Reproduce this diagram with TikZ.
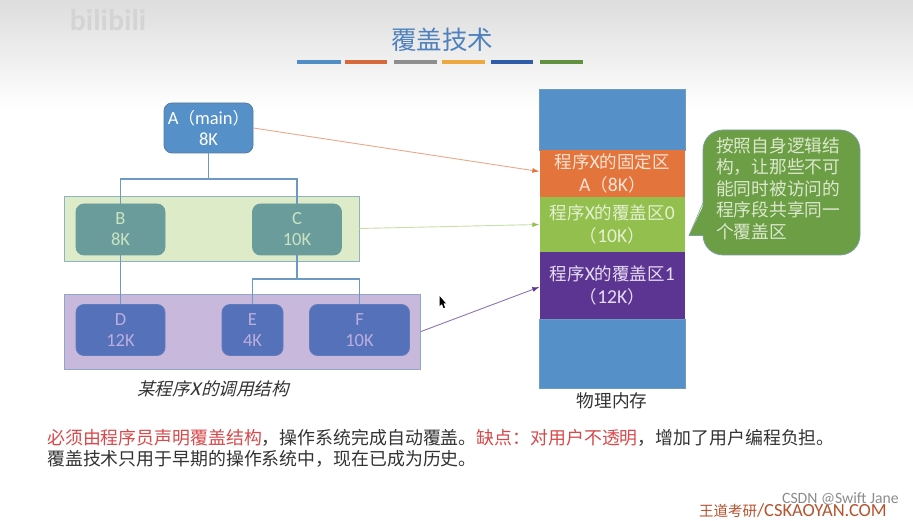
\documentclass[tikz,border=0pt]{standalone}
\usepackage{fontspec}
\setmainfont{Carlito}
\newfontfamily\cjk{Noto Sans CJK SC}
\newfontfamily\cjkit[FakeSlant=0.25]{Noto Sans CJK SC}
\newfontfamily\latit[FakeSlant=0.25]{Carlito}
\newcommand\cjkseg[1]{{\cjk\fontsize{17.5}{23}\selectfont #1}}
\newcommand\cjktree[1]{{\cjk\fontsize{16.5}{21}\selectfont #1}}
\usetikzlibrary{arrows.meta}
\definecolor{linkblue}{HTML}{6D9AC5}
\definecolor{memblue}{HTML}{5591C8}
\definecolor{memorange}{HTML}{E3743B}
\definecolor{memgreen}{HTML}{92BF4E}
\definecolor{mempurple}{HTML}{5C3593}
\definecolor{notegreen}{HTML}{6C9E46}
\definecolor{redtext}{HTML}{D9484A}
\definecolor{darktext}{HTML}{333333}
\definecolor{bgtop}{HTML}{DDDDDD}
\definecolor{tealfill}{HTML}{6A9C9B}
\definecolor{tealtext}{HTML}{CBE3C2}
\definecolor{indigofill}{HTML}{5571B9}
\definecolor{indigoedge}{HTML}{5F7CBE}
\definecolor{indigotext}{HTML}{BBAEDF}
\definecolor{titleblue}{HTML}{4F81BD}
\definecolor{barA}{HTML}{4F8FC6}
\definecolor{barB}{HTML}{D8693A}
\definecolor{barC}{HTML}{8E8E8E}
\definecolor{barD}{HTML}{EBA93F}
\definecolor{barE}{HTML}{2F5CA8}
\definecolor{barF}{HTML}{5F9140}
\definecolor{gband}{HTML}{DEEBC8}
\definecolor{gbandedge}{HTML}{8FB3BC}
\definecolor{pband}{HTML}{C8B8DC}
\definecolor{pbandedge}{HTML}{8FA8C8}
\definecolor{memedge}{HTML}{6E9CC0}
\definecolor{txtorange}{HTML}{FBE3D5}
\definecolor{txtgreen}{HTML}{E4F0D0}
\definecolor{txtpurple}{HTML}{E6DDF2}
\definecolor{arrorange}{HTML}{EBA98C}
\definecolor{arrgreen}{HTML}{C9DFA8}
\definecolor{arrpurple}{HTML}{8E74B4}
\definecolor{noteedge}{HTML}{7FA0A0}
\definecolor{notetxt}{HTML}{DCE8CC}
\definecolor{brandred}{HTML}{B5532E}
\tikzset{
  treenode/.style={rounded corners=8pt,inner sep=0pt,align=center,draw,line width=0.8pt,font=\fontsize{18.5}{21}\selectfont},
  nodeA/.style={treenode,fill=memblue,draw=linkblue!80!black,text=white},
  nodeG/.style={treenode,fill=tealfill,draw=tealfill,text=tealtext},
  nodeP/.style={treenode,fill=indigofill,draw=indigoedge,text=indigotext},
  band/.style={inner sep=0pt,line width=0.9pt},
  link/.style={draw=linkblue,line width=1.6pt},
  memseg/.style={inner sep=0pt,minimum width=145.5pt,align=center,font=\fontsize{19.6}{23}\selectfont},
  maplink/.style={line width=0.9pt},
  titlebar/.style={line width=3.6pt},
  textline/.style={anchor=west,inner sep=0pt,font=\cjk\fontsize{17.9}{22}\selectfont,text=darktext}
}
\begin{document}
\begin{tikzpicture}[x=1pt,y=-1pt]
\useasboundingbox (0,0) rectangle (913,521);
\fill[white] (0,0) rectangle (913,521);
\shade[top color=bgtop,bottom color=white] (0,0) rectangle (913,110);

% watermark
\node[text=black!17,font=\bfseries\fontsize{30}{33}\selectfont,inner sep=0pt] (bili) at (108,20) {bilibili};

% title
\node[font=\cjk\fontsize{25.5}{30}\selectfont,text=titleblue,inner sep=0pt] (title) at (442,40) {覆盖技术};
\draw[titlebar,draw=barA] (297,62) -- (340.5,62);
\draw[titlebar,draw=barB] (345,62) -- (387,62);
\draw[titlebar,draw=barC] (394,62) -- (437,62);
\draw[titlebar,draw=barD] (441.5,62) -- (485,62);
\draw[titlebar,draw=barE] (490.5,62) -- (533,62);
\draw[titlebar,draw=barF] (540,62) -- (582.5,62);

% bands
\node[band,fill=gband,draw=gbandedge,minimum width=295pt,minimum height=65pt] (greenband) at (211.5,228.5) {};
\node[band,fill=pband,draw=pbandedge,minimum width=356.5pt,minimum height=75pt] (purpleband) at (242.3,331.5) {};

% tree nodes
\node[nodeA,minimum width=89pt,minimum height=50pt] (A) at (208.5,128) {A\cjktree{（}main\cjktree{）}\\8K};
\node[nodeG,minimum width=89pt,minimum height=51pt] (B) at (120.5,229.5) {B\\8K};
\node[nodeG,minimum width=89pt,minimum height=51pt] (C) at (297,229.5) {C\\10K};
\node[nodeP,minimum width=89pt,minimum height=51pt] (D) at (120.5,330) {D\\12K};
\node[nodeP,minimum width=61pt,minimum height=51pt] (E) at (252.5,330) {E\\4K};
\node[nodeP,minimum width=100pt,minimum height=51pt] (F) at (359.5,330) {F\\10K};

% tree links
\coordinate (ja) at (208.5,179);
\coordinate (jc) at (297,279);
\draw[link] (A.south) -- (ja);
\draw[link] (B.north) |- (ja);
\draw[link] (C.north) |- (ja);
\draw[link] (B.south) -- (D.north);
\draw[link] (C.south) -- (jc);
\draw[link] (E.north) |- (jc);
\draw[link] (F.north) |- (jc);

\node[font=\cjkit\fontsize{17.5}{20}\selectfont,text=darktext,inner sep=0pt] (caption) at (213,389) {某程序{\latit\fontsize{19.6}{20}\selectfont X\kern1pt}的调用结构};

% memory
\node[memseg,fill=memblue,minimum height=61pt,draw=memedge,line width=0.5pt] (memtop) at (612.3,119.5) {};
\node[memseg,fill=memblue,minimum height=69pt,draw=memedge,line width=0.5pt] (membot) at (612.3,353.5) {};
\node[memseg,fill=memorange,minimum height=47pt,text=txtorange] (memA) at (612.3,173.5) {\cjkseg{程序}X\cjkseg{的固定区}\\A\cjkseg{（}8K\cjkseg{）}};
\node[memseg,fill=memgreen,minimum height=55pt,text=txtgreen] (mem0) at (612.3,224.5) {\cjkseg{程序}X\cjkseg{的覆盖区}0\\\cjkseg{（}10K\cjkseg{）}};
\node[memseg,fill=mempurple,minimum height=67pt,text=txtpurple] (mem1) at (612.3,285.5) {\cjkseg{程序}X\cjkseg{的覆盖区}1\\\cjkseg{（}12K\cjkseg{）}};
\node[font=\cjk\fontsize{17.7}{20}\selectfont,text=darktext,inner sep=0pt] (memlabel) at (612,401) {物理内存};

% mapping arrows
\draw[maplink,draw=arrorange,-{Latex[length=7pt,width=5pt,color=memorange]}] (A.east) -- ([yshift=2pt]memA.west);
\draw[maplink,draw=arrgreen,-{Latex[length=7pt,width=5pt,color=memgreen]}] (greenband.east) -- (mem0.west);
\draw[maplink,draw=arrpurple,-{Latex[length=7pt,width=5pt,color=mempurple]}] (purpleband.east) -- ([yshift=-1.5pt]mem1.west);

% callout
\node[fill=notegreen,draw=noteedge,line width=0.8pt,rounded corners=20pt,minimum width=157pt,minimum height=125pt,inner sep=0pt] (note) at (781.5,192.5) {};
\coordinate (tip) at (689,235.5);
\fill[notegreen] (704.5,203) -- (tip) -- (704.5,235.5) -- cycle;
\draw[draw=noteedge,line width=0.6pt] (703,203) -- (tip) -- (703,235.5);
\node[anchor=north west,inner sep=0pt,align=left,text=notetxt,font=\cjk\fontsize{17.7}{21.5}\selectfont] (notetext) at (716,137) {按照自身逻辑结\\构，让那些不可\\能同时被访问的\\程序段共享同一\\个覆盖区};

% bottom text
\node[textline] (line1) at (47,438) {\textcolor{redtext}{必须由程序员声明覆盖结构}，操作系统完成自动覆盖。\textcolor{redtext}{缺点：对用户不透明}，增加了用户编程负担。};
\node[textline] (line2) at (47,459) {覆盖技术只用于早期的操作系统中，现在已成为历史。};

% marks bottom right
\node[anchor=east,inner sep=0pt,text=brandred,font=\fontsize{18.5}{19}\selectfont] (brand) at (887,510.5) {{\cjk\fontsize{14.5}{19}\selectfont 王道考研}/CSKAOYAN.COM};
\node[anchor=east,inner sep=0pt,text=black!45,font=\fontsize{15.7}{15}\selectfont] (csdn) at (899,499) {CSDN @Swift Jane};

% mouse pointer
\fill[black] (439.5,296) -- (439.5,306) -- (442,304) -- (443.5,308) -- (445,307.5) -- (443.5,303.5) -- (446,303.5) -- cycle;
\end{tikzpicture}
\end{document}
